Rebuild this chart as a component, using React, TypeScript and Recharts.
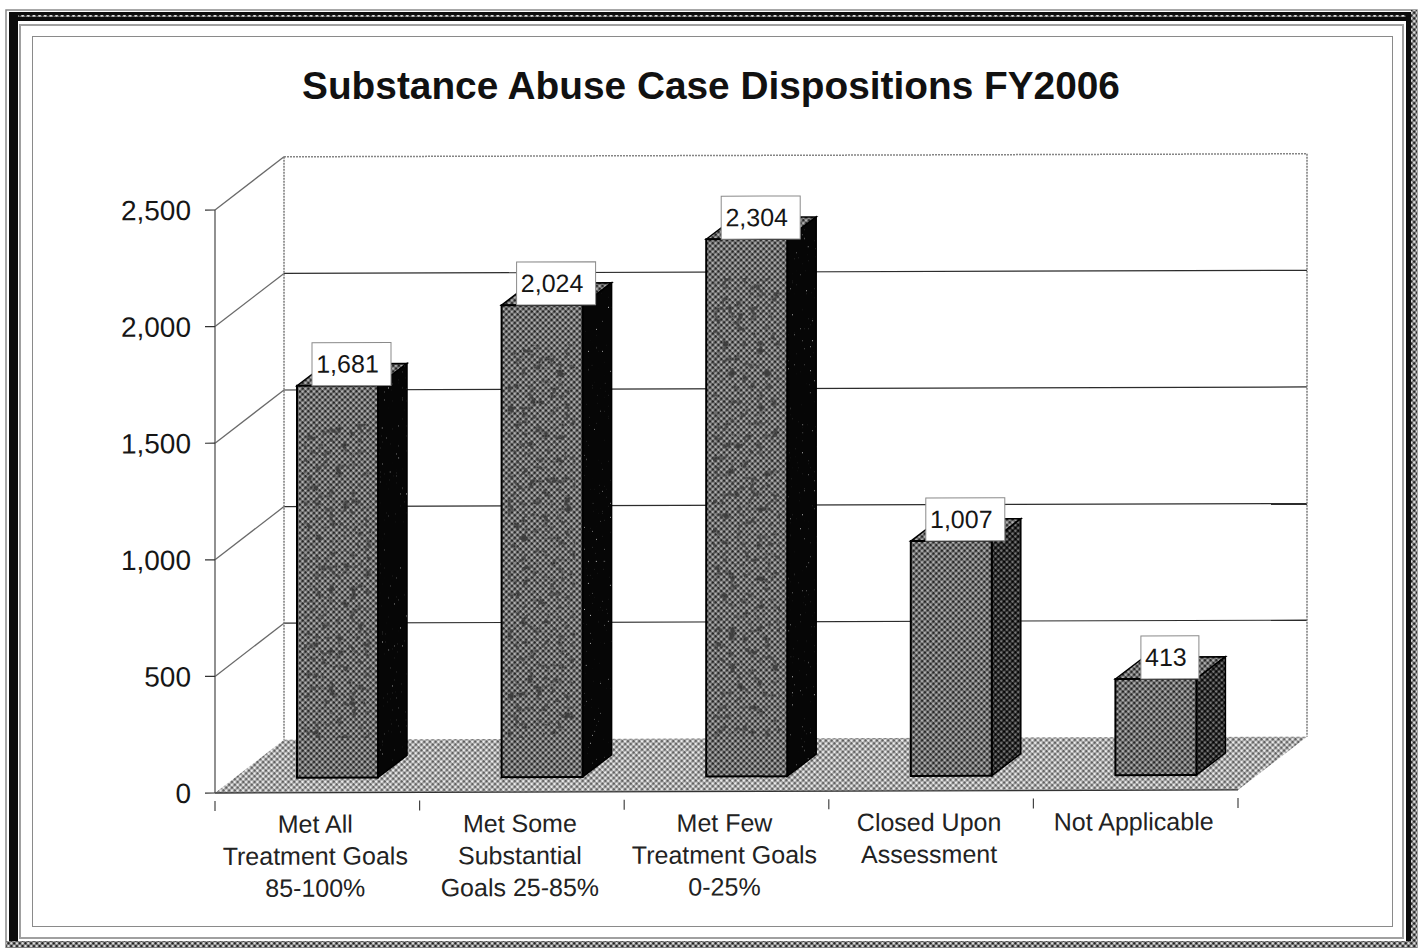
import React from 'react';
import { BarChart, Bar, XAxis, YAxis, ReferenceArea, ReferenceLine, LabelList } from 'recharts';

const categories = [
  ['Met All', 'Treatment Goals', '85-100%'],
  ['Met Some', 'Substantial', 'Goals 25-85%'],
  ['Met Few', 'Treatment Goals', '0-25%'],
  ['Closed Upon', 'Assessment'],
  ['Not Applicable'],
];
const cases = [1681, 2024, 2304, 1007, 413];
const yTicks = [0, 500, 1000, 1500, 2000, 2500];

const data = categories.map((lines, i) => ({ name: lines.join(' '), cases: cases[i] }));

// depth of the fake 3D box and where the bars sit inside it
const DEPTH_X = 69;
const DEPTH_Y = 53;
const BAR_DX = 20;
const BAR_DY = 15;
const SIDE_X = 29;
const SIDE_Y = 22;
const FONT = '"Liberation Sans", Arial, sans-serif';
const INK = '#161616';

function Room({ x, y, width, height }: any) {
  const bottom = y + height;
  return (
    <g>
      <polygon
        points={`${x},${bottom} ${x + width},${bottom} ${x + width + DEPTH_X},${bottom - DEPTH_Y} ${x + DEPTH_X},${bottom - DEPTH_Y}`}
        fill="url(#floorDither)"
      />
      <g stroke="#7a7a7a" strokeWidth={1.5} fill="none" strokeDasharray="2 1">
        <line x1={x + DEPTH_X} y1={y - DEPTH_Y} x2={x + DEPTH_X} y2={bottom - DEPTH_Y} />
        <line x1={x + width + DEPTH_X} y1={y - DEPTH_Y} x2={x + width + DEPTH_X} y2={bottom - DEPTH_Y} />
      </g>
    </g>
  );
}

function WallLine({ x1, y1, x2, y2, top }: any) {
  return (
    <g fill="none">
      <line x1={x1} y1={y1} x2={x1 + DEPTH_X} y2={y1 - DEPTH_Y} stroke="#6a6a6a" strokeWidth={1.3} />
      <line
        x1={x1 + DEPTH_X}
        y1={y1 - DEPTH_Y}
        x2={x2 + DEPTH_X}
        y2={y2 - DEPTH_Y}
        stroke={top ? '#858585' : '#2c2c2c'}
        strokeWidth={top ? 1.5 : 1.2}
        strokeDasharray={top ? '2 1' : undefined}
      />
    </g>
  );
}

function Box3D({ x, y, width, height, value }: any) {
  const left = x + BAR_DX;
  const top = y - BAR_DY;
  const right = left + width;
  const bottom = top + height;
  const tall = value > 1500;
  const side = `${right},${top} ${right + SIDE_X},${top - SIDE_Y} ${right + SIDE_X},${bottom - SIDE_Y} ${right},${bottom}`;
  const lid = `${left},${top} ${left + SIDE_X},${top - SIDE_Y} ${right + SIDE_X},${top - SIDE_Y} ${right},${top}`;
  return (
    <g>
      <polygon points={lid} fill="url(#frontWeave)" stroke="#000" strokeWidth={1.5} />
      <polygon points={side} fill={tall ? '#060606' : 'url(#sideDither)'} stroke="#000" strokeWidth={1.5} />
      {tall && <polygon points={side} fill="#000" filter="url(#sideSpeckle)" />}
      <rect x={left} y={top} width={width} height={height} fill="url(#frontWeave)" stroke="#000" strokeWidth={2} />
      {tall && (
        <rect x={left + 8} y={top + 40} width={width - 16} height={height - 80} fill="#000" filter="url(#mottle)" />
      )}
    </g>
  );
}

function ValueBox({ x, y, width, value }: any) {
  const boxW = value >= 1000 ? 79 : 58;
  const cx = x + BAR_DX + width / 2 + 14;
  const top = y - BAR_DY;
  return (
    <g>
      <rect x={cx - boxW / 2} y={top - 43} width={boxW} height={43} fill="#fff" stroke="#8a8a8a" strokeWidth={1} />
      <text x={cx - 4} y={top - 13} textAnchor="middle" fontFamily={FONT} fontSize={25} fill={INK}>
        {value.toLocaleString('en-US')}
      </text>
    </g>
  );
}

function CategoryTick({ x, y, index }: any) {
  const band = 1023 / categories.length;
  const left = x - band / 2;
  return (
    <g>
      <line x1={left} y1={y} x2={left} y2={y + 10} stroke="#444" strokeWidth={1.2} />
      {index === categories.length - 1 && (
        <line x1={left + band} y1={y} x2={left + band} y2={y + 10} stroke="#444" strokeWidth={1.2} />
      )}
      <text textAnchor="middle" fontFamily={FONT} fontSize={25} fill="#222">
        {categories[index].map((line, i) => (
          <tspan key={line} x={x - 2} y={y + 40 - 8 + i * 32}>
            {line}
          </tspan>
        ))}
      </text>
    </g>
  );
}

function Patterns() {
  return (
    <svg width={0} height={0} style={{ position: 'absolute' }}>
      <defs>
        <pattern id="frontWeave" width={4} height={4} patternUnits="userSpaceOnUse" patternTransform="rotate(45)">
          <rect width={4} height={4} fill="#6e6e6e" />
          <rect width={2} height={2} fill="#262626" />
          <rect x={2} y={2} width={2} height={2} fill="#b0b0b0" />
        </pattern>
        <pattern id="floorDither" width={4} height={4} patternUnits="userSpaceOnUse" patternTransform="rotate(45)">
          <rect width={4} height={4} fill="#a8a8a8" />
          <rect width={2} height={2} fill="#606060" />
          <rect x={2} y={2} width={2} height={2} fill="#ececec" />
        </pattern>
        <pattern id="sideDither" width={4} height={4} patternUnits="userSpaceOnUse" patternTransform="rotate(45)">
          <rect width={4} height={4} fill="#2c2c2c" />
          <rect width={2} height={2} fill="#050505" />
          <rect x={2} y={2} width={2} height={2} fill="#777" />
        </pattern>
        <pattern id="bandDither" width={4} height={4} patternUnits="userSpaceOnUse" patternTransform="rotate(45)">
          <rect width={4} height={4} fill="#808080" />
          <rect width={2} height={2} fill="#222" />
          <rect x={2} y={2} width={2} height={2} fill="#ddd" />
        </pattern>
        <filter id="mottle" x="0" y="0" width="1" height="1">
          <feTurbulence type="fractalNoise" baseFrequency="0.14" numOctaves={3} seed={7} />
          <feColorMatrix values="0 0 0 0 0.05  0 0 0 0 0.05  0 0 0 0 0.05  5 0 0 0 -2.75" />
        </filter>
        <filter id="sideSpeckle" x="0" y="0" width="1" height="1">
          <feTurbulence type="fractalNoise" baseFrequency="0.5" numOctaves={2} seed={3} />
          <feColorMatrix values="0 0 0 0 0.55  0 0 0 0 0.55  0 0 0 0 0.55  9 0 0 0 -6.6" />
          <feComposite in2="SourceAlpha" operator="in" />
        </filter>
      </defs>
    </svg>
  );
}

function Frame() {
  const box = (l: number, t: number, r: number, b: number, style: React.CSSProperties) => (
    <div style={{ position: 'absolute', left: l, top: t, width: r - l, height: b - t, boxSizing: 'border-box', ...style }} />
  );
  return (
    <>
      {/* heavy page border: black on three sides, dithered along the bottom and outer right */}
      <svg width={1424} height={948} style={{ position: 'absolute', left: 0, top: 0 }}>
        <rect x={6} y={10} width={1411} height={938} fill="none" stroke="#8a8a8a" strokeWidth={1.5} />
        <rect x={9} y={12} width={9} height={930} fill="#0c0c0c" />
        <rect x={9} y={12} width={1403} height={9} fill="#0c0c0c" />
        <rect x={1406} y={12} width={6} height={930} fill="#0c0c0c" />
        <rect x={18} y={15} width={1388} height={2} fill="url(#bandDither)" />
        <rect x={1411} y={10} width={6} height={938} fill="url(#bandDither)" />
        <rect x={6} y={941} width={1411} height={7} fill="url(#bandDither)" />
      </svg>
      {box(19, 24, 1404, 939, { border: '2px solid #a0a0a0' })}
      {box(32, 36, 1393, 927, { border: '1.5px solid #8a8a8a' })}
    </>
  );
}

export default function App() {
  return (
    <div style={{ position: 'absolute', left: 0, top: 0, width: 1424, height: 948, background: '#fff', overflow: 'hidden' }}>
      <Patterns />
      <Frame />
      <div
        style={{
          position: 'absolute',
          left: 0,
          width: 1424,
          top: 64,
          textAlign: 'center',
          fontFamily: FONT,
          fontWeight: 700,
          fontSize: 38.8,
          lineHeight: '44px',
          color: '#111',
          transform: 'translateX(-1px)',
        }}
      >
        Substance Abuse Case Dispositions FY2006
      </div>
      <div style={{ position: 'absolute', left: 0, top: 0, transform: 'skewY(-0.17deg)', transformOrigin: '215px 793px' }}>
        <BarChart
          width={1424}
          height={948}
          data={data}
          margin={{ top: 210, right: 186, bottom: 0, left: 0 }}
          style={{ background: 'transparent' }}
        >
          <XAxis
            dataKey="name"
            height={155}
            interval={0}
            tickLine={false}
            axisLine={{ stroke: '#333', strokeWidth: 1.3 }}
            tick={<CategoryTick />}
          />
          <YAxis
            width={215}
            domain={[0, 2500]}
            ticks={yTicks}
            tickSize={10}
            tickMargin={14}
            axisLine={{ stroke: '#555', strokeWidth: 1.3 }}
            tickLine={{ stroke: '#333', strokeWidth: 1.2 }}
            tick={{ fontFamily: FONT, fontSize: 28, fill: INK }}
            tickFormatter={(v: number) => v.toLocaleString('en-US')}
          />
          <ReferenceArea y1={0} y2={2500} shape={<Room />} fill="none" stroke="none" />
          {yTicks.slice(1).map((t) => (
            <ReferenceLine key={t} y={t} shape={<WallLine top={t === 2500} />} zIndex={50} />
          ))}
          <Bar dataKey="cases" barSize={81} isAnimationActive={false} shape={<Box3D />}>
            <LabelList dataKey="cases" content={<ValueBox />} />
          </Bar>
        </BarChart>
      </div>
    </div>
  );
}
